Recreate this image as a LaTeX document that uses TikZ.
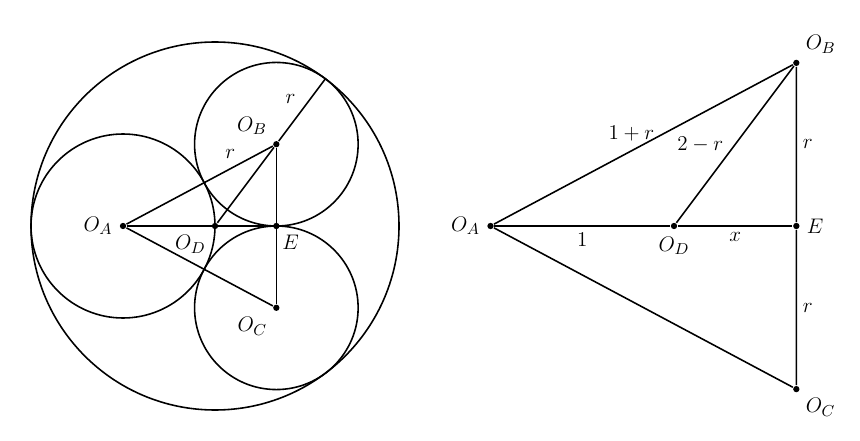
\documentclass[tikz,border=0pt]{standalone}
\begin{document}
\begin{tikzpicture}[line width=0.9pt,font=\fontsize{12.5}{15}\selectfont,
  dot/.style={circle,fill,inner sep=0pt,minimum size=3.6pt}]
  \useasboundingbox (0,0) rectangle (17.2,8.8);
  \begin{scope}[shift={(2.46,4.28)},scale=1.84]
    \node[dot,label=left:$O_A$] (OA) at (0,0) {};
    \node[dot,label=below left:$O_D$] (OD) at (1,0) {};
    \node[dot,label={[xshift=-2pt]below right:$E$}] (E) at (5/3,0) {};
    \node[dot,label=above left:$O_B$] (OB) at (5/3,8/9) {};
    \node[dot,label=below left:$O_C$] (OC) at (5/3,-8/9) {};
    \coordinate (T) at (2.2,1.6);
    \draw (OD) circle (2);
    \draw (OA) circle (1);
    \draw (OB) circle (8/9);
    \draw (OC) circle (8/9);
    \draw (OA) -- node[pos=0.71,above=2pt] {$r$} (OB);
    \draw (OA) -- (OC);
    \draw (OA) -- (E);
    \draw (OB) -- (OC);
    \draw (OD) -- (OB) -- node[midway,above left=0pt] {$r$} (T);
  \end{scope}
  \begin{scope}[shift={(9.81,4.28)},scale=3.67]
    \node[dot,label=left:$O_A$] (oa) at (0,0) {};
    \node[dot,label=below:$O_D$] (od) at (1,0) {};
    \node[dot,label=right:$E$] (e) at (5/3,0) {};
    \node[dot,label=above right:$O_B$] (ob) at (5/3,8/9) {};
    \node[dot,label=below right:$O_C$] (oc) at (5/3,-8/9) {};
    \draw (oa) -- node[pos=0.46,above=2pt] {$1+r$} (ob);
    \draw (oa) -- (oc);
    \draw (oa) -- node[midway,below] {$1$} (od);
    \draw (od) -- node[midway,below] {$x$} (e);
    \draw (od) -- node[midway,left=3pt] {$2-r$} (ob);
    \draw (ob) -- node[midway,right] {$r$} (e);
    \draw (e) -- node[midway,right] {$r$} (oc);
  \end{scope}
\end{tikzpicture}
\end{document}
